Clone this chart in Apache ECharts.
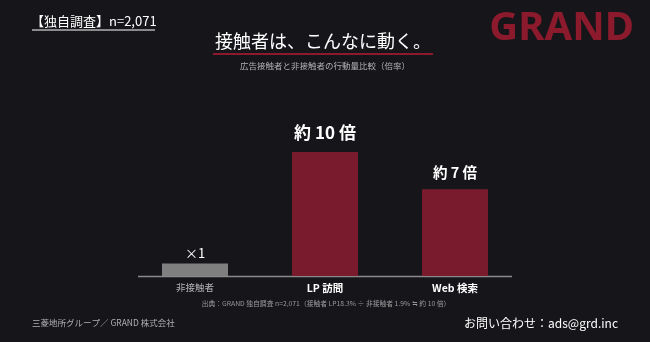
<!DOCTYPE html>
<html>
<head>
<meta charset="utf-8">
<script src="https://cdn.jsdelivr.net/npm/echarts@6/dist/echarts.min.js"></script>
<style>
  html, body { margin: 0; padding: 0; background: #16151a; }
  #chart { width: 650px; height: 342px; }
</style>
</head>
<body>
<div id="chart"></div>
<script>
// 行動量比較（非接触者 = 1）
var categories = ['非接触者', 'LP 訪問', 'Web 検索'];
var ratios = [1, 10, 7];
var barLabels = ['×1', '約 10 倍', '約 7 倍'];

var FONT = '"Noto Sans CJK JP", "Noto Sans", sans-serif';
var RED = '#7a1b2d';

var dom = document.getElementById('chart');
var myChart = echarts.init(dom);

// 各バーの色・ラベル
var labelStyles = [
    { fontSize: 13, fontWeight: 'normal', distance: 4 },
    { fontSize: 17, fontWeight: 'bold', distance: 11 },
    { fontSize: 14.5, fontWeight: 'bold', distance: 9 }
];
var barData = ratios.map(function (v, i) {
    return {
        value: v,
        itemStyle: { color: i === 0 ? '#7f7f7f' : RED },
        label: {
            show: true,
            position: 'top',
            formatter: barLabels[i],
            color: '#ffffff',
            fontFamily: FONT,
            fontSize: labelStyles[i].fontSize,
            fontWeight: labelStyles[i].fontWeight,
            distance: labelStyles[i].distance
        }
    };
});

var option = {
    backgroundColor: '#16151a',
    animation: false,
    grid: { left: 130, right: 130, top: 152, bottom: 66 },
    xAxis: {
        type: 'category',
        data: categories,
        axisLine: { show: false },
        axisTick: { show: false },
        axisLabel: {
            margin: 7,
            fontFamily: FONT,
            fontSize: 10,
            formatter: function (v, i) {
                return i === 0 ? '{n|' + v + '}' : '{b|' + v + '}';
            },
            rich: {
                n: { color: '#b5b5b5', fontSize: 9.5, fontFamily: FONT },
                b: { color: '#ffffff', fontSize: 10.5, fontWeight: 'bold', fontFamily: FONT }
            }
        }
    },
    yAxis: {
        type: 'value',
        min: 0,
        max: 10,
        show: false,
        splitLine: { show: false }
    },
    series: [{
        type: 'bar',
        data: barData,
        barWidth: 66
    }],
    graphic: [
        // 軸線
        { type: 'line', shape: { x1: 138, y1: 276.5, x2: 512, y2: 276.5 },
          style: { stroke: '#8a8a8a', lineWidth: 1.5 } },
        // 左上
        { type: 'text', left: 31, top: 15,
          style: { text: '【独自調査】n=2,071', fill: '#ffffff', font: '13px ' + FONT } },
        { type: 'line', shape: { x1: 32, y1: 30, x2: 155, y2: 30 },
          style: { stroke: '#ffffff', lineWidth: 1 } },
        // ロゴ
        { type: 'text', right: 16, top: 9,
          style: { text: 'GRAND', fill: '#8b1a2c', font: 'bold 40px "Noto Sans", sans-serif' } },
        // タイトル
        { type: 'text', x: 323, y: 41,
          style: { text: '接触者は、こんなに動く。', fill: '#ffffff', font: '18px ' + FONT,
                   textAlign: 'center', textVerticalAlign: 'middle' } },
        { type: 'line', shape: { x1: 213, y1: 54, x2: 433, y2: 54 },
          style: { stroke: '#8b1a2c', lineWidth: 2 } },
        { type: 'text', x: 325, y: 66,
          style: { text: '広告接触者と非接触者の行動量比較（倍率）', fill: '#b0b0b0', font: '8.5px ' + FONT,
                   textAlign: 'center', textVerticalAlign: 'middle' } },
        // 出典
        { type: 'text', x: 326, y: 303,
          style: { text: '出典：GRAND 独自調査 n=2,071（接触者 LP18.3% ÷ 非接触者 1.9% ≒ 約 10 倍）',
                   fill: '#9a9a9a', font: '6.8px ' + FONT, textAlign: 'center', textVerticalAlign: 'middle' } },
        // フッター
        { type: 'text', x: 32, y: 323,
          style: { text: '三菱地所グループ／ GRAND 株式会社', fill: '#b0b0b0', font: '8.5px ' + FONT,
                   textVerticalAlign: 'middle' } },
        { type: 'text', x: 618, y: 323,
          style: { text: 'お問い合わせ：ads@grd.inc', fill: '#ffffff', font: '12px ' + FONT,
                   textAlign: 'right', textVerticalAlign: 'middle' } }
    ]
};

if (option && typeof option === 'object') {
    myChart.setOption(option, true);
}
</script>
</body>
</html>
